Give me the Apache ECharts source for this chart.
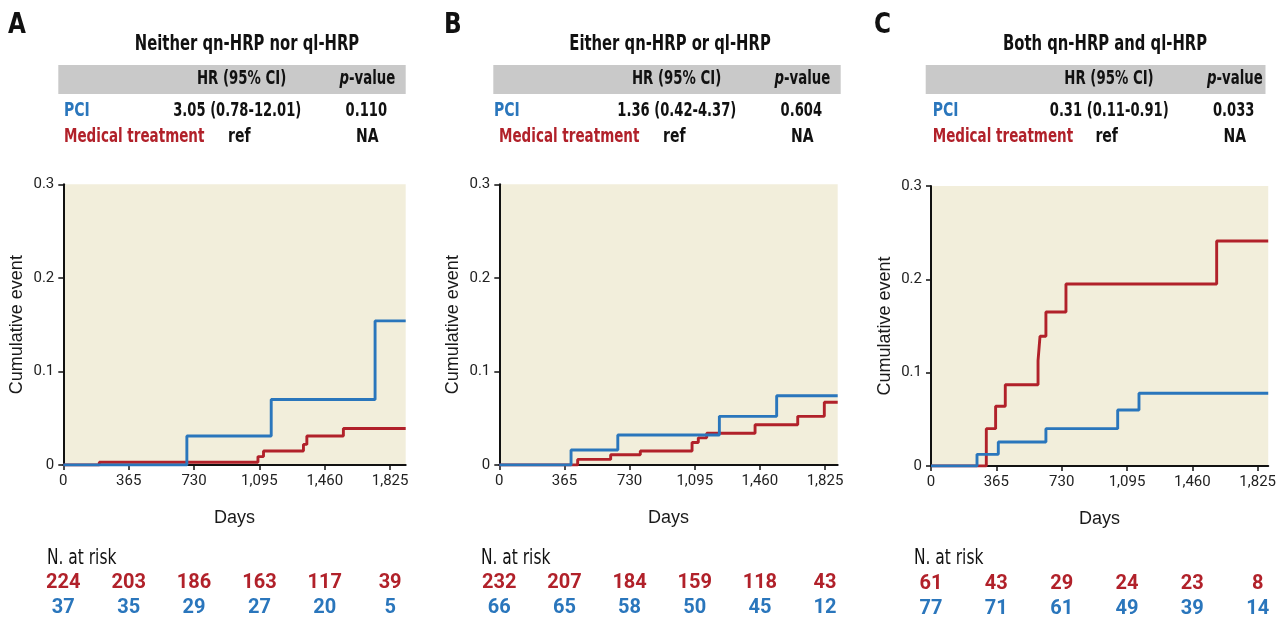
<!DOCTYPE html>
<html>
<head>
<meta charset="utf-8">
<script src="https://cdn.jsdelivr.net/npm/echarts@6/dist/echarts.min.js"></script>
<style>html,body{margin:0;padding:0;background:#fff}#c{width:1279px;height:619px}</style>
</head>
<body>
<div id="c"></div>
<script>
// ---------- data ----------
const xTicks = [0, 365, 730, 1095, 1460, 1825];
const yTicks = [0, 0.1, 0.2, 0.3];

const aPciDays = [0, 690, 1161, 1741, 1912];
const aPciCum  = [0, 0.031, 0.070, 0.154, 0.154];
const aMedDays = [0, 201, 1087, 1118, 1341, 1360, 1564, 1912];
const aMedCum  = [0, 0.003, 0.009, 0.015, 0.022, 0.031, 0.039, 0.039];

const bPciDays = [0, 402, 664, 1233, 1554, 1896];
const bPciCum  = [0, 0.016, 0.032, 0.052, 0.074, 0.074];
const bMedDays = [0, 439, 624, 790, 1080, 1115, 1162, 1433, 1672, 1821, 1896];
const bMedCum  = [0, 0.006, 0.011, 0.015, 0.024, 0.029, 0.034, 0.043, 0.052, 0.067, 0.067];

const cPciDays = [0, 257, 376, 642, 1043, 1162, 1884];
const cPciCum  = [0, 0.0125, 0.0257, 0.040, 0.060, 0.078, 0.078];
const cMedDays = [0, 309, 361, 415, 598, 609, 642, 754, 1596, 1884];
const cMedCum  = [0, 0.040, 0.064, 0.087, 0.113, 0.139, 0.165, 0.195, 0.241, 0.241];

const aMedRisk = [224, 203, 186, 163, 117, 39];
const aPciRisk = [37, 35, 29, 27, 20, 5];
const bMedRisk = [232, 207, 184, 159, 118, 43];
const bPciRisk = [66, 65, 58, 50, 45, 12];
const cMedRisk = [61, 43, 29, 24, 23, 8];
const cPciRisk = [77, 71, 61, 49, 39, 14];

const panelLetters = ['A', 'B', 'C'];
const panelTitles = ['Neither qn-HRP nor ql-HRP', 'Either qn-HRP or ql-HRP', 'Both qn-HRP and ql-HRP'];
const hrTexts = ['3.05 (0.78-12.01)', '1.36 (0.42-4.37)', '0.31 (0.11-0.91)'];
const pTexts = ['0.110', '0.604', '0.033'];

// ---------- style / layout ----------
const RED = '#b1212a';
const BLUE = '#2a76bc';
const BG = '#f2eedb';
const HEAD = '"DejaVu Sans", sans-serif';
const NUM = 'Roboto, "DejaVu Sans", sans-serif';
const SANS = '"Liberation Sans", Arial, sans-serif';
const SQ = 0.70;   // horizontal condensing of header words
const SQN = 0.655; // horizontal condensing of header numbers

const layout = [
  {gl: 63.3, gt: 184.3, gw: 342.4, gh: 280.7, xmax: 1912, letterX: 8,   titleX: 247,  barL: 58.3,  barR: 405.7,  pciX: 64,    medX: 64,    riskX: 47},
  {gl: 499.3, gt: 184.3, gw: 338.4, gh: 280.7, xmax: 1896, letterX: 444, titleX: 670,  barL: 493.3, barR: 840.7,  pciX: 494,   medX: 499,   riskX: 481},
  {gl: 931, gt: 186, gw: 337.3, gh: 280.7, xmax: 1884, letterX: 874, titleX: 1105, barL: 925.7, barR: 1265.5, pciX: 932.7, medX: 932.7, riskX: 914}
];

const curves = [
  {pci: [aPciDays, aPciCum], med: [aMedDays, aMedCum], pr: aPciRisk, mr: aMedRisk},
  {pci: [bPciDays, bPciCum], med: [bMedDays, bMedCum], pr: bPciRisk, mr: bMedRisk},
  {pci: [cPciDays, cPciCum], med: [cMedDays, cMedCum], pr: cPciRisk, mr: cMedRisk}
];

function zip(xs, ys) { return xs.map((x, i) => [x, ys[i]]); }
function fmtDay(v) { return Number(v).toLocaleString('en-US'); }
function txt(x, y, text, opt) {
  const o = Object.assign({size: 20, weight: 'bold', fill: '#111', align: 'left', family: HEAD, rich: null, sq: SQ}, opt || {});
  const style = {
    text: text, fontFamily: o.family, fontSize: o.size, fontWeight: o.weight, fill: o.fill,
    textAlign: o.align, align: o.align, textVerticalAlign: 'middle', verticalAlign: 'middle'
  };
  if (o.rich) style.rich = o.rich;
  return {type: 'text', x: x, y: y, scaleX: o.sq, scaleY: 1, style: style, z: 10};
}

const grids = [], xAxes = [], yAxes = [], series = [], graphics = [];

layout.forEach((L, k) => {
  const C = curves[k];
  grids.push({left: L.gl, top: L.gt, width: L.gw, height: L.gh, show: true, backgroundColor: BG, borderWidth: 0, containLabel: false});

  xAxes.push({
    type: 'value', gridIndex: k, min: 0, max: L.xmax, interval: 365,
    name: 'Days', nameLocation: 'middle', nameGap: 44,
    nameTextStyle: {fontFamily: SANS, fontSize: 18, color: '#1a1a1a'},
    axisLine: {show: true, onZero: false, lineStyle: {color: '#111', width: 2}},
    axisTick: {show: true, length: 5, lineStyle: {color: '#111', width: 1.5}, customValues: xTicks},
    axisLabel: {show: true, margin: 9, fontFamily: NUM, fontSize: 15, color: '#222', formatter: fmtDay, customValues: xTicks},
    splitLine: {show: false}
  });
  [[C.mr, RED, 118], [C.pr, BLUE, 143]].forEach(([arr, col, off]) => {
    xAxes.push({
      type: 'value', gridIndex: k, min: 0, max: L.xmax, interval: 365, position: 'bottom', offset: off,
      axisLine: {show: false}, axisTick: {show: false}, splitLine: {show: false},
      axisLabel: {
        show: true, margin: 0, verticalAlign: 'middle', customValues: xTicks,
        fontFamily: NUM, fontSize: 20, fontWeight: 'bold', color: col,
        formatter: v => { const i = xTicks.indexOf(Math.round(v)); return i >= 0 ? String(arr[i]) : ''; }
      }
    });
  });

  yAxes.push({
    type: 'value', gridIndex: k, min: 0, max: 0.3, interval: 0.1,
    name: 'Cumulative event', nameLocation: 'middle', nameGap: 37, nameRotate: 90,
    nameTextStyle: {fontFamily: SANS, fontSize: 18, color: '#1a1a1a'},
    axisLine: {show: true, lineStyle: {color: '#111', width: 2}},
    axisTick: {show: true, length: 5, lineStyle: {color: '#111', width: 1.5}},
    axisLabel: {margin: 9, fontFamily: NUM, fontSize: 15, color: '#222', formatter: v => v === 0 ? '0' : v.toFixed(1)},
    splitLine: {show: false}
  });

  const xi = k * 3;
  series.push({
    type: 'line', xAxisIndex: xi, yAxisIndex: k, step: 'end', data: zip(C.med[0], C.med[1]),
    showSymbol: false, symbol: 'none', lineStyle: {color: RED, width: 2.9}, z: 3, silent: true
  });
  series.push({
    type: 'line', xAxisIndex: xi, yAxisIndex: k, step: 'end', data: zip(C.pci[0], C.pci[1]),
    showSymbol: false, symbol: 'none', lineStyle: {color: BLUE, width: 2.9}, z: 4, silent: true
  });

  graphics.push(txt(L.letterX, 25, panelLetters[k], {size: 29, sq: 0.8}));
  graphics.push(txt(L.titleX, 45, panelTitles[k], {size: 21, align: 'center', sq: 0.705}));
  graphics.push({type: 'rect', shape: {x: L.barL, y: 65, width: L.barR - L.barL, height: 29}, style: {fill: '#c9c9c9'}, z: 1});
  graphics.push(txt(L.barL + 228, 79.5, 'HR (95% CI)', {size: 19, align: 'right'}));
  graphics.push(txt(L.barL + 337, 79.5, '{i|p}-value', {size: 19, align: 'right',
    rich: {i: {fontFamily: HEAD, fontSize: 19, fontWeight: 'bold', fontStyle: 'italic', fill: '#111'}}}));
  graphics.push(txt(L.pciX, 110.5, 'PCI', {fill: BLUE}));
  graphics.push(txt(L.barL + 243, 110.5, hrTexts[k], {align: 'right', sq: SQN}));
  graphics.push(txt(L.barL + 308, 110.5, pTexts[k], {align: 'center', sq: SQN}));
  graphics.push(txt(L.medX, 136.5, 'Medical treatment', {fill: RED, sq: 0.675}));
  graphics.push(txt(L.barL + 181, 136.5, 'ref', {align: 'center'}));
  graphics.push(txt(L.barL + 309, 136.5, 'NA', {align: 'center'}));
  graphics.push(txt(L.riskX, 559, 'N. at risk', {size: 21, weight: 'normal', sq: 0.735}));
});

const chart = echarts.init(document.getElementById('c'), null, {renderer: 'canvas'});
chart.setOption({
  animation: false,
  backgroundColor: '#ffffff',
  grid: grids,
  xAxis: xAxes,
  yAxis: yAxes,
  series: series,
  graphic: {elements: graphics}
});
</script>
</body>
</html>
